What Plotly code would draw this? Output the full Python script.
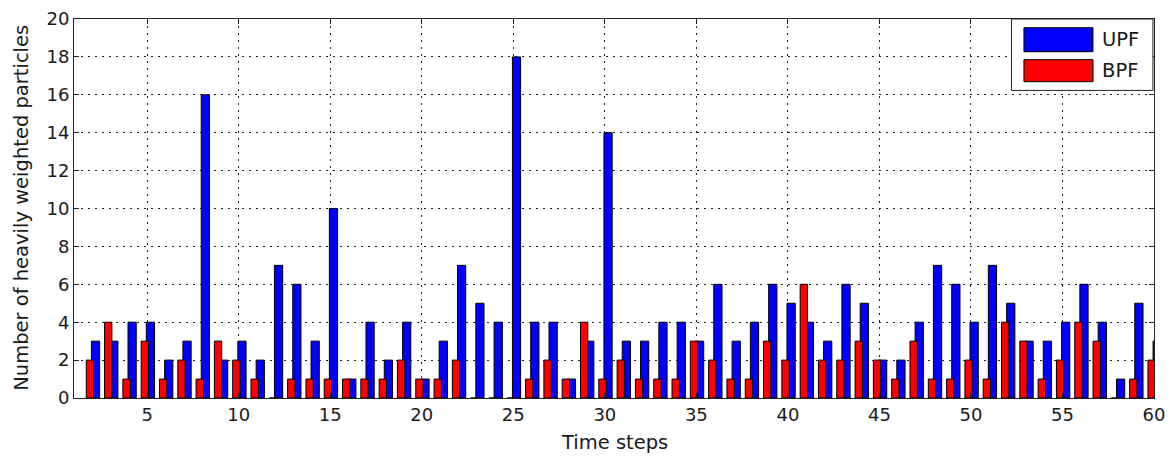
import plotly.graph_objects as go

# Time steps and the number of heavily weighted particles for each filter
steps = list(range(2, 61))
upf = [3, 3, 4, 4, 2, 3, 16, 2, 3, 2, 7, 6, 3, 10, 1, 4, 2, 4, 1, 3, 7, 5, 4, 18,
       4, 4, 1, 3, 14, 3, 3, 4, 4, 3, 6, 3, 4, 6, 5, 4, 3, 6, 5, 2, 2, 4, 7, 6, 4,
       7, 5, 3, 3, 4, 6, 4, 1, 5, 3]
bpf = [2, 4, 1, 3, 1, 2, 1, 3, 2, 1, 0, 1, 1, 1, 1, 1, 1, 2, 1, 1, 2, 0, 0, 0,
       1, 2, 1, 4, 1, 2, 1, 1, 1, 3, 2, 1, 1, 3, 2, 6, 2, 2, 3, 2, 1, 3, 1, 1, 2,
       1, 4, 3, 1, 2, 4, 3, 0, 1, 2]

x_ticks = list(range(5, 61, 5))
y_ticks = list(range(0, 21, 2))

FONT = "DejaVu Sans"
TXT = "#1a1a1a"
TITLE_SIZE = 19.5

fig = go.Figure()
fig.add_trace(go.Bar(x=steps, y=upf, name="UPF", offset=-0.05, width=0.45,
                     marker=dict(color="#0000FF", line=dict(color="black", width=1))))
fig.add_trace(go.Bar(x=steps, y=bpf, name="BPF", offset=-0.33, width=0.40,
                     marker=dict(color="#FF0000", line=dict(color="black", width=1))))

axis_common = dict(
    showline=True, linecolor="#222", linewidth=1, mirror="allticks",
    ticks="inside", ticklen=5, tickcolor="#222",
    showgrid=True, gridcolor="#222", gridwidth=1, griddash="2px,5px",
    zeroline=False, tickfont=dict(family=FONT, size=18, color=TXT),
    automargin=False,
)

fig.update_xaxes(range=[1, 60], tickvals=x_ticks, **axis_common)
fig.update_yaxes(range=[0, 20], tickvals=y_ticks, **axis_common)

annotations = [
    dict(xref="paper", yref="paper", x=0.5, y=-0.118, text="Time steps",
         showarrow=False, xanchor="center", yanchor="middle",
         font=dict(family=FONT, size=TITLE_SIZE, color=TXT)),
    dict(xref="paper", yref="paper", x=-0.0481, y=0.502,
         text="Number of heavily weighted particles", textangle=-90,
         showarrow=False, xanchor="center", yanchor="middle",
         font=dict(family=FONT, size=TITLE_SIZE, color=TXT)),
]

# Legend box drawn in paper coordinates
lx0, lx1, ly0, ly1 = 0.868, 0.999, 0.8116, 1.0
shapes = [dict(type="rect", xref="paper", yref="paper", x0=lx0, x1=lx1, y0=ly0, y1=ly1,
               line=dict(color="#222", width=1), fillcolor="white", layer="above")]
entries = [("UPF", "#0000FF", 0.9137, 0.977), ("BPF", "#FF0000", 0.8346, 0.8927)]
for name, col, y0, y1 in entries:
    shapes.append(dict(type="rect", xref="paper", yref="paper", x0=0.8796, x1=0.9435,
                       y0=y0, y1=y1, line=dict(color="black", width=1), fillcolor=col,
                       layer="above"))
    annotations.append(dict(xref="paper", yref="paper", x=0.950, y=(y0 + y1) / 2,
                            text=name, showarrow=False, xanchor="left", yanchor="middle",
                            font=dict(family=FONT, size=TITLE_SIZE, color=TXT)))

fig.update_layout(
    width=1173, height=458,
    margin=dict(l=74, r=19, t=19, b=60),
    paper_bgcolor="white", plot_bgcolor="white",
    barmode="overlay", showlegend=False,
    shapes=shapes, annotations=annotations,
)

fig.write_html("out.html")
